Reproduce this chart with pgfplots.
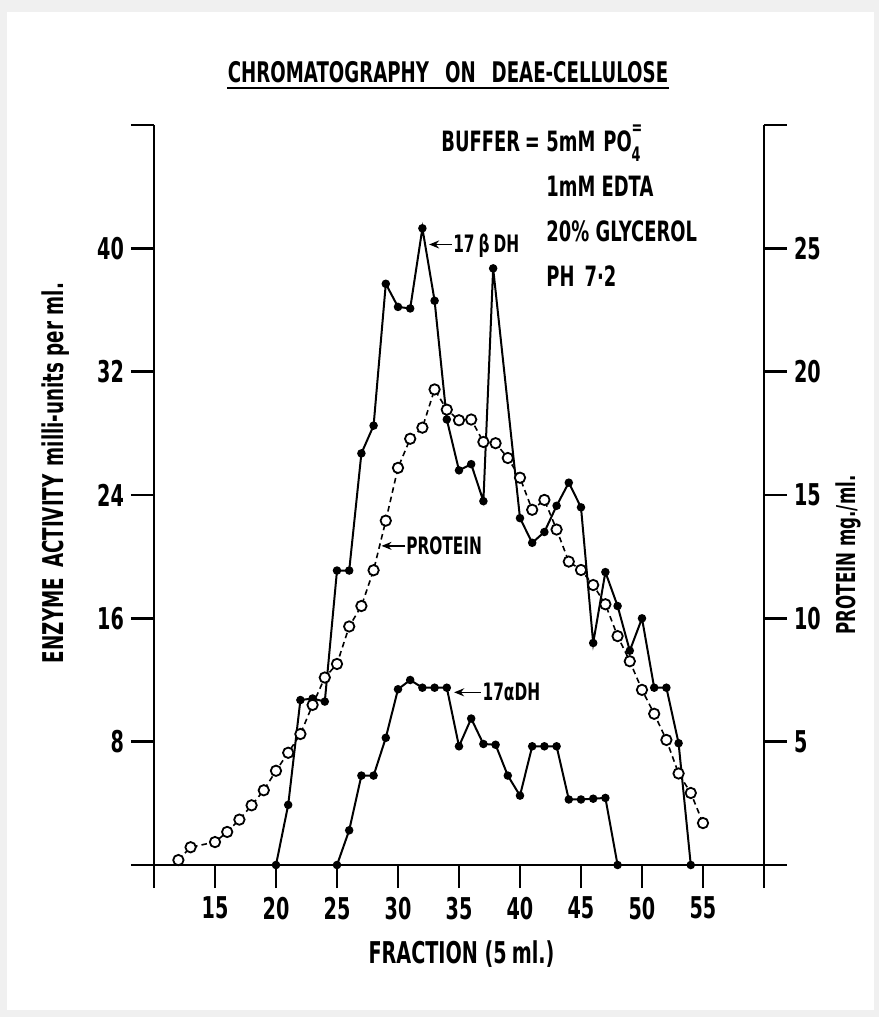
\documentclass[border=0pt]{standalone}
\usepackage{fontspec}
\setmainfont{DejaVu Sans}[FakeStretch=0.64]
\usepackage{pgfplots}
\pgfplotsset{compat=1.18}
\usetikzlibrary{arrows.meta,calc}
\begin{document}
\bfseries
\begin{tikzpicture}
\fill[gray!12] (-77pt,-76pt) rectangle (362.5pt,432.5pt);
\fill[white] (-73.5pt,-72.5pt) rectangle (360pt,426.5pt);
\begin{axis}[
  at={(0,0)}, anchor=south west, scale only axis,
  width=305pt, height=370pt,
  xmin=10, xmax=60, ymin=0, ymax=48,
  axis x line*=bottom, axis y line*=left,
  xtick={10,15,...,60}, xticklabels={,15,20,25,30,35,40,45,50,55,},
  ytick={0,8,...,48}, yticklabels={,8,16,24,32,40,},
  tick align=outside, major tick length=11.5pt,
  axis line style={line width=1.3pt},
  tick style={line width=1.3pt, black},
  tick label style={font=\fontsize{15}{18}\selectfont},
  xticklabel style={yshift=-1pt},
  clip=false,
]
\addplot[black, line width=1pt, mark=*, mark size=1.6pt] coordinates {
(20,0)(21,3.9)(22,10.7)(23,10.8)(24,10.6)(25,19.1)(26,19.1)(27,26.7)(28,28.5)(29,37.7)(30,36.2)(31,36.1)(32,41.3)(33,36.6)(34,28.9)(35,25.6)(36,26.0)(37,23.6)(37.8,38.7)(40,22.5)(41,20.9)(42,21.6)(43,23.3)(44,24.8)(45,23.2)(46,14.4)(47,19.0)(48,16.8)(49,13.9)(50,16.0)(51,11.5)(52,11.5)(53,7.9)(54,0)
};
\addplot[black, line width=1pt, mark=*, mark size=1.6pt] coordinates {
(25,0)(26,2.25)(27,5.8)(28,5.8)(29,8.25)(30,11.4)(31,12.0)(32,11.5)(33,11.5)(34,11.5)(35,7.7)(36,9.5)(37,7.85)(38,7.8)(39,5.8)(40,4.5)(41,7.7)(42,7.7)(43,7.7)(44,4.25)(45,4.25)(46,4.3)(47,4.35)(48,0)
};
\draw[-{Stealth[length=5pt,width=4pt]}, line width=0.8pt] (axis cs:34.4,40.25) -- (axis cs:32.55,40.25);
\node[anchor=west, inner sep=0, font=\fontsize{12}{14}\selectfont] at (axis cs:34.5,40.2) {17\,β\,DH};
\draw[-{Stealth[length=5pt,width=4pt]}, line width=0.8pt] (axis cs:30.6,20.7) -- (axis cs:28.65,20.7);
\node[anchor=west, inner sep=0, font=\fontsize{12}{14}\selectfont] at (axis cs:30.65,20.7) {PROTEIN};
\draw[-{Stealth[length=5pt,width=4pt]}, line width=0.8pt] (axis cs:36.8,11.2) -- (axis cs:34.6,11.2);
\node[anchor=west, inner sep=0, font=\fontsize{12}{14}\selectfont] at (axis cs:36.9,11.2) {17αDH};
\end{axis}
\begin{axis}[
  at={(0,0)}, anchor=south west, scale only axis,
  width=305pt, height=370pt,
  xmin=10, xmax=60, ymin=0, ymax=30,
  axis x line=none, axis y line*=right,
  ytick={0,5,...,30}, yticklabels={,5,10,15,20,25,},
  tick align=outside, major tick length=11.5pt,
  axis line style={line width=1.3pt},
  tick style={line width=1.3pt, black},
  tick label style={font=\fontsize{15}{18}\selectfont},
  clip=false,
]
\addplot[black, line width=0.8pt, dash pattern=on 2.8pt off 2pt, mark=*, mark size=2.6pt,
  mark options={solid, fill=white, draw=black, line width=0.9pt}] coordinates {
(12,0.2)(13,0.72)(15,0.93)(16,1.34)(17,1.84)(18,2.42)(19,3.03)(20,3.82)(21,4.55)(22,5.31)(23,6.49)(24,7.6)(25,8.15)(26,9.67)(27,10.5)(28,11.95)(29,13.96)(30,16.1)(31,17.28)(32,17.73)(33,19.28)(34,18.46)(35,18.03)(36,18.06)(37,17.15)(38,17.1)(39,16.5)(40,15.7)(41,14.4)(42,14.8)(43,13.6)(44,12.3)(45,11.96)(46,11.35)(47,10.57)(48,9.28)(49,8.26)(50,7.1)(51,6.13)(52,5.07)(53,3.71)(54,2.92)(55,1.7)
};
\end{axis}
% title
\node[anchor=base, inner sep=0, font=\fontsize{14.2}{17}\selectfont] (T) at (147pt,391pt) {CHROMATOGRAPHY\hspace{8pt}ON\hspace{8pt}DEAE-CELLULOSE};
\draw[line width=1pt] ($(T.base west)+(0,-2.6pt)$) -- ($(T.base east)+(0,-2.6pt)$);
% buffer block
\begin{scope}[every node/.style={anchor=base west, inner sep=0, font=\fontsize{14}{17}\selectfont}]
\node at (143.5pt,356.5pt) {BUFFER\,=};
\node at (196pt,356.5pt) {5mM\hspace{4pt}PO\rlap{\raisebox{1.15ex}{\fontsize{10}{10}\selectfont =}}\raisebox{-0.6ex}{\fontsize{10}{10}\selectfont 4}};
\node at (196pt,334pt) {1mM EDTA};
\node at (196pt,311.5pt) {20\% GLYCEROL};
\node at (196pt,289pt) {PH\hspace{5pt}7·2};
\end{scope}
% axis labels
\node[font=\fontsize{15}{18}\selectfont] at (153.75pt,-44.5pt) {FRACTION (5\,ml.)};
\node[rotate=90, font=\fontsize{14.3}{17}\selectfont] at (-49pt,196pt) {ENZYME\hspace{5pt}ACTIVITY\hspace{4pt}milli-units per ml.};
\node[rotate=90, font=\fontsize{13}{16}\selectfont] at (347pt,155pt) {PROTEIN mg./ml.};
\end{tikzpicture}
\end{document}
